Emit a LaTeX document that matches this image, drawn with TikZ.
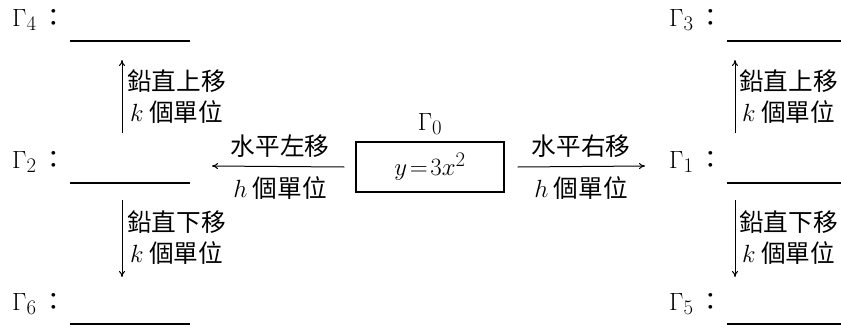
\documentclass[tikz,border=0pt]{standalone}
\usepackage{fontspec}
\newfontfamily\cjk[Scale=0.88]{Noto Sans CJK TC}
\usetikzlibrary{arrows.meta}
\begin{document}
\begin{tikzpicture}[x=1pt,y=-1pt,
  every node/.style={font=\fontsize{28}{30}\selectfont, inner sep=0pt},
  lbl/.style={anchor=west},
  blank/.style={line width=1.2pt},
  arr/.style={line width=1pt,-{To[length=6pt,width=6pt]}},
  txt/.style={align=center, font=\fontsize{28}{31}\selectfont\cjk}
]
\useasboundingbox (0,0) rectangle (841,327);
% labels
\node[lbl] (g4) at (12,20) {$\Gamma_4$\,{\cjk ：}};
\node[lbl] (g2) at (12,162) {$\Gamma_2$\,{\cjk ：}};
\node[lbl] (g6) at (12,304) {$\Gamma_6$\,{\cjk ：}};
\node[lbl] (g3) at (669,20) {$\Gamma_3$\,{\cjk ：}};
\node[lbl] (g1) at (669,162) {$\Gamma_1$\,{\cjk ：}};
\node[lbl] (g5) at (669,304) {$\Gamma_5$\,{\cjk ：}};
% blanks
\coordinate (b4l) at (70,41);  \coordinate (b4r) at (190,41);
\coordinate (b2l) at (70,183); \coordinate (b2r) at (190,183);
\coordinate (b6l) at (70,324); \coordinate (b6r) at (190,324);
\coordinate (b3l) at (727,41);  \coordinate (b3r) at (841,41);
\coordinate (b1l) at (727,183); \coordinate (b1r) at (841,183);
\coordinate (b5l) at (727,324); \coordinate (b5r) at (841,324);
\foreach \b in {4,2,6,3,1,5} \draw[blank] (b\b l) -- (b\b r);
% center box
\node[draw, line width=1.3pt, minimum width=148pt, minimum height=50pt] (g0) at (430,167) {$y\!=\!3x^2$};
\node (g0l) at (430,124) {$\Gamma_0$};
% horizontal arrows
\coordinate (la) at (212,166);
\coordinate (ra) at (645,166);
\draw[arr] ([xshift=-11pt]g0.west) -- (la);
\draw[arr] ([xshift=13pt]g0.east) -- (ra);
\node[txt] (lt1) at (280,146) {水平左移};
\node[txt] (lt2) at (280,188) {$h$ 個單位};
\node[txt] (rt1) at (581,146) {水平右移};
\node[txt] (rt2) at (581,188) {$h$ 個單位};
% vertical arrows
\coordinate (lu1) at (122,133); \coordinate (lu2) at (122,60);
\coordinate (ld1) at (122,200); \coordinate (ld2) at (122,277);
\coordinate (ru1) at (735,133); \coordinate (ru2) at (735,60);
\coordinate (rd1) at (735,200); \coordinate (rd2) at (735,277);
\draw[arr] (lu1) -- (lu2);
\draw[arr] (ld1) -- (ld2);
\draw[arr] (ru1) -- (ru2);
\draw[arr] (rd1) -- (rd2);
\node[txt, anchor=west] (lut) at (127,97) {鉛直上移\\$k$ 個單位};
\node[txt, anchor=west] (ldt) at (127,238) {鉛直下移\\$k$ 個單位};
\node[txt, anchor=west] (rut) at (739,97) {鉛直上移\\$k$ 個單位};
\node[txt, anchor=west] (rdt) at (739,238) {鉛直下移\\$k$ 個單位};
\end{tikzpicture}
\end{document}
